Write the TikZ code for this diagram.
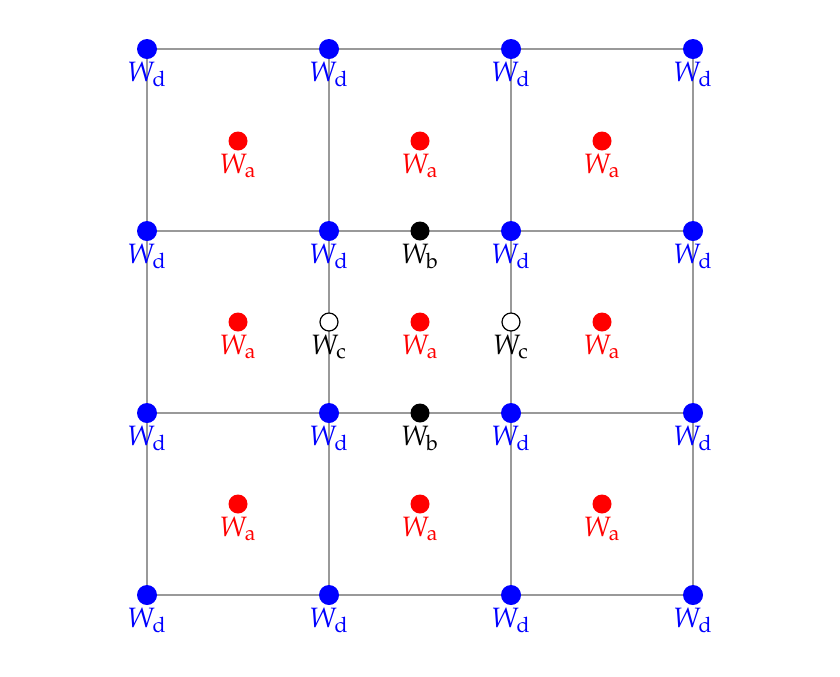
\documentclass[tikz,border=0pt]{standalone}
\usepackage{mathpazo}
\begin{document}
\begin{tikzpicture}[x=0.5pt,y=-0.5pt,
  gridline/.style={draw=black!40,line width=1pt},
  ddot/.style={circle,fill=blue,inner sep=0pt,minimum size=10pt},
  adot/.style={circle,fill=red,inner sep=0pt,minimum size=9.5pt},
  bdot/.style={circle,fill=black,inner sep=0pt,minimum size=9.5pt},
  cdot/.style={circle,draw=black,line width=0.6pt,fill=white,inner sep=0pt,minimum size=9pt},
  lab/.style={anchor=base,inner sep=0pt,font=\fontsize{14}{16}\selectfont}]
\fill[white] (0,0) rectangle (840,676);
\useasboundingbox (0,0) rectangle (840,676);
% grid coordinates
\foreach \i/\x in {0/147,1/329,2/511,3/693}
  \foreach \j/\y in {0/49,1/231,2/413,3/595}
    \coordinate (g\i\j) at (\x,\y);
% grid lines
\foreach \j in {0,1,2,3} \draw[gridline] (g0\j) -- (g3\j);
\foreach \i in {0,1,2,3} \draw[gridline] (g\i0) -- (g\i3);
% W_d
\foreach \i/\x in {0/147,1/329,2/511,3/693}
  \foreach \j/\y in {0/49,1/231,2/413,3/595}{
    \node[ddot] (d\i\j) at (g\i\j) {};
    \node[lab,text=blue] (ld\i\j) at (\x,\y+32) {$W_{\mathrm{d}}$};
  }
% W_a
\foreach \i/\x in {0/238,1/420,2/602}
  \foreach \j/\y in {0/141,1/322,2/504}{
    \node[adot] (a\i\j) at (\x,\y) {};
    \node[lab,text=red] (la\i\j) at (\x,\y+32) {$W_{\mathrm{a}}$};
  }
% W_b
\foreach \k/\y in {0/231,1/413}{
  \node[bdot] (b\k) at (420,\y) {};
  \node[lab] (lb\k) at (420,\y+32) {$W_{\mathrm{b}}$};
}
% W_c
\foreach \k/\x in {0/329,1/511}{
  \node[cdot] (c\k) at (\x,322) {};
  \node[lab] (lc\k) at (\x,322+32) {$W_{\mathrm{c}}$};
}
\end{tikzpicture}
\end{document}
